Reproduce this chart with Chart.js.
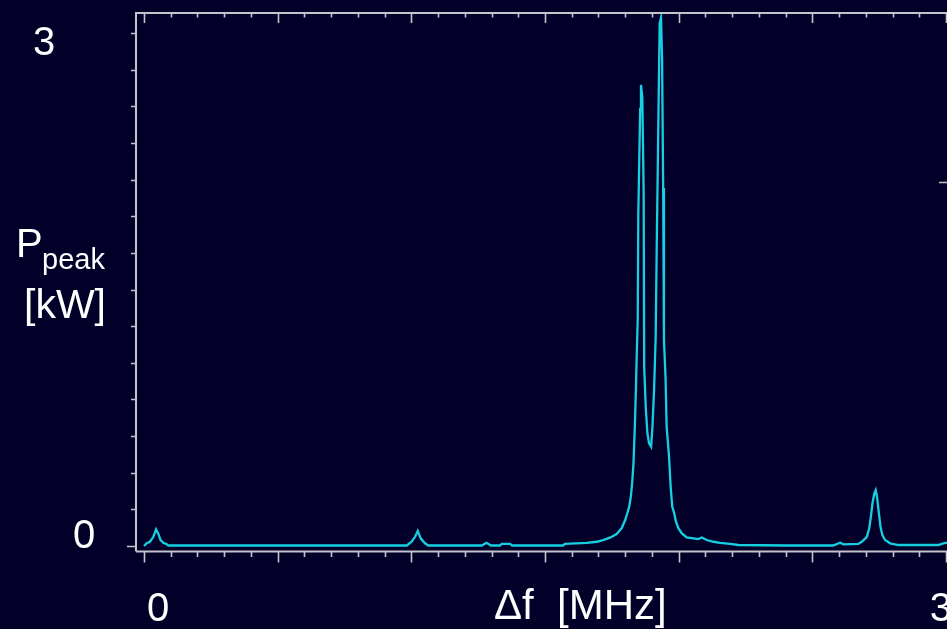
<!DOCTYPE html>
<html><head><meta charset="utf-8">
<script src="https://cdn.jsdelivr.net/npm/chart.js@4.4.1/dist/chart.umd.min.js"></script>
<style>
html,body{margin:0;padding:0;background:#020029;overflow:hidden;}
#wrap{position:relative;width:947px;height:629px;overflow:hidden;background:#020029;}
canvas{display:block;}
</style></head><body>
<div id="wrap"><canvas id="c" width="1000" height="629"></canvas></div>
<script>
// ---- data ----
const freqMHz = [
  0.000,0.010,0.022,0.035,0.045,0.053,0.062,0.072,0.085,0.091,0.300,0.600,0.983,
  1.001,1.014,1.024,1.035,1.051,1.064,1.263,1.281,1.298,1.332,1.338,1.369,1.377,1.567,
  1.575,1.656,1.694,1.717,1.743,1.768,1.787,1.800,1.808,1.815,1.821,1.826,1.831,1.836,
  1.840,1.843,1.847,1.849,1.856,1.859,1.864,1.869,1.871,1.877,1.883,1.889,1.897,1.902,
  1.908,1.914,1.918,1.924,1.929,1.934,1.938,1.942,1.945,1.951,1.955,1.964,1.970,1.976,
  1.983,1.990,1.999,2.012,2.030,2.055,2.073,2.087,2.105,2.130,2.155,2.192,2.223,2.400,
  2.578,2.604,2.616,2.672,2.685,2.704,2.713,2.719,2.725,2.732,2.737,2.742,2.749,2.755,
  2.762,2.772,2.791,2.822,2.972,2.990,3.000,3.015
];
const powerKW = [
  0.000,0.016,0.025,0.054,0.098,0.074,0.035,0.019,0.010,0.003,0.003,0.003,0.003,
  0.025,0.054,0.088,0.045,0.016,0.003,0.003,0.019,0.003,0.003,0.013,0.013,0.003,0.003,
  0.013,0.019,0.025,0.035,0.049,0.070,0.105,0.152,0.193,0.230,0.288,0.368,0.485,0.698,
  0.912,1.107,1.333,1.942,2.556,2.696,2.626,2.070,1.049,0.807,0.661,0.602,0.581,0.698,
  0.912,1.224,1.754,2.480,3.058,3.089,2.842,2.094,1.205,0.982,0.698,0.522,0.347,0.230,
  0.193,0.142,0.104,0.074,0.051,0.045,0.041,0.050,0.035,0.025,0.019,0.012,0.006,0.003,
  0.003,0.019,0.010,0.012,0.025,0.054,0.104,0.171,0.250,0.308,0.327,0.288,0.191,0.113,
  0.064,0.035,0.016,0.006,0.006,0.016,0.019,0.023
];
// tick positions and labels
const xMinorTicks = [0,0.1,0.2,0.3,0.4,0.5,0.6,0.7,0.8,0.9,1.0,1.1,1.2,1.3,1.4,1.5,1.6,1.7,1.8,1.9,2.0,2.1,2.2,2.3,2.4,2.5,2.6,2.7,2.8,2.9,3.0];
const xMajorTicks = [0,0.5,1.0,1.5,2.0,2.5,3.0];
const yTicks = [0,0.214,0.429,0.643,0.857,1.071,1.286,1.5,1.714,1.929,2.143,2.357,2.571,2.786,3.0];
const yMajorTicks = [0];
const yRightTicks = [2.13];
const xTickValues = [0, 3];
const xTickLabels = ['0', '3'];
const yTickValues = [0, 3];
const yTickLabels = ['0', '3'];
const xTitle = 'Δf  [MHz]';
const yTitleMain = 'P';
const yTitleSub = 'peak';
const yTitleUnit = '[kW]';

const AXIS = '#c4c4cc';
const LINE = '#16d0e2';
const FONT = '"Liberation Sans", Arial, sans-serif';

const axesPlugin = {
  id: 'axesPlugin',
  afterDraw(chart) {
    const ctx = chart.ctx, a = chart.chartArea;
    const xs = chart.scales.x, ys = chart.scales.y;
    ctx.save();
    ctx.strokeStyle = AXIS;
    ctx.lineCap = 'butt';
    // frame
    ctx.lineWidth = 2;
    ctx.beginPath();
    ctx.moveTo(a.left, a.bottom); ctx.lineTo(a.left, a.top); ctx.lineTo(a.right, a.top);
    ctx.lineTo(a.right, a.bottom); ctx.lineTo(a.left, a.bottom);
    ctx.stroke();
    ctx.lineWidth = 1.6;
    ctx.beginPath();
    xMinorTicks.forEach(v => {
      const px = Math.round(xs.getPixelForValue(v)) + 0.5;
      const major = xMajorTicks.some(m => Math.abs(m - v) < 1e-6);
      ctx.moveTo(px, a.bottom); ctx.lineTo(px, a.bottom + (major ? 11 : 5.5));
      ctx.moveTo(px, a.top); ctx.lineTo(px, a.top + (major ? 10 : 4.5));
    });
    yTicks.forEach(v => {
      const py = Math.round(ys.getPixelForValue(v)) + 0.5;
      const major = yMajorTicks.some(m => Math.abs(m - v) < 1e-6);
      ctx.moveTo(a.left, py); ctx.lineTo(a.left - (major ? 9 : 5), py);
    });
    yRightTicks.forEach(v => {
      const py = Math.round(ys.getPixelForValue(v)) + 0.5;
      ctx.moveTo(a.right, py); ctx.lineTo(a.right - 11, py);
    });
    ctx.stroke();

    // text
    ctx.fillStyle = '#ffffff';
    ctx.textBaseline = 'alphabetic';
    ctx.font = '40px ' + FONT;
    ctx.textAlign = 'center';
    // x tick labels
    const xOff = [14, -5];
    xTickValues.forEach((v, i) => {
      ctx.fillText(xTickLabels[i], xs.getPixelForValue(v) + xOff[i], 621);
    });
    // y tick labels
    const yPos = [{x: 84, dy: 2}, {x: 44, dy: 22}];
    yTickValues.forEach((v, i) => {
      ctx.fillText(yTickLabels[i], yPos[i].x, ys.getPixelForValue(v) + yPos[i].dy);
    });
    // x title
    ctx.textAlign = 'left';
    ctx.font = '42px ' + FONT;
    ctx.fillText(xTitle, 494, 619);
    // y title
    ctx.font = '40px ' + FONT;
    ctx.fillText(yTitleMain, 16, 257);
    ctx.font = '29px ' + FONT;
    ctx.fillText(yTitleSub, 42, 269);
    ctx.font = '41px ' + FONT;
    ctx.textAlign = 'center';
    ctx.fillText(yTitleUnit, 65, 318);
    ctx.restore();
  }
};

const points = freqMHz.map((f, i) => ({x: f, y: powerKW[i]}));

new Chart(document.getElementById('c'), {
  type: 'line',
  data: { datasets: [{
    data: points,
    borderColor: LINE,
    borderWidth: 2.3,
    pointRadius: 0,
    tension: 0,
    fill: false
  }]},
  options: {
    responsive: false,
    animation: false,
    devicePixelRatio: 1,
    layout: { padding: { left: 136, top: 13, right: 50, bottom: 77.5 } },
    plugins: { legend: { display: false }, tooltip: { enabled: false }, title: { display: false } },
    scales: {
      x: { type: 'linear', display: false, min: -0.030, max: 3.015 },
      y: { type: 'linear', display: false, min: -0.032, max: 3.117 }
    }
  },
  plugins: [axesPlugin]
});
</script>
</body></html>
